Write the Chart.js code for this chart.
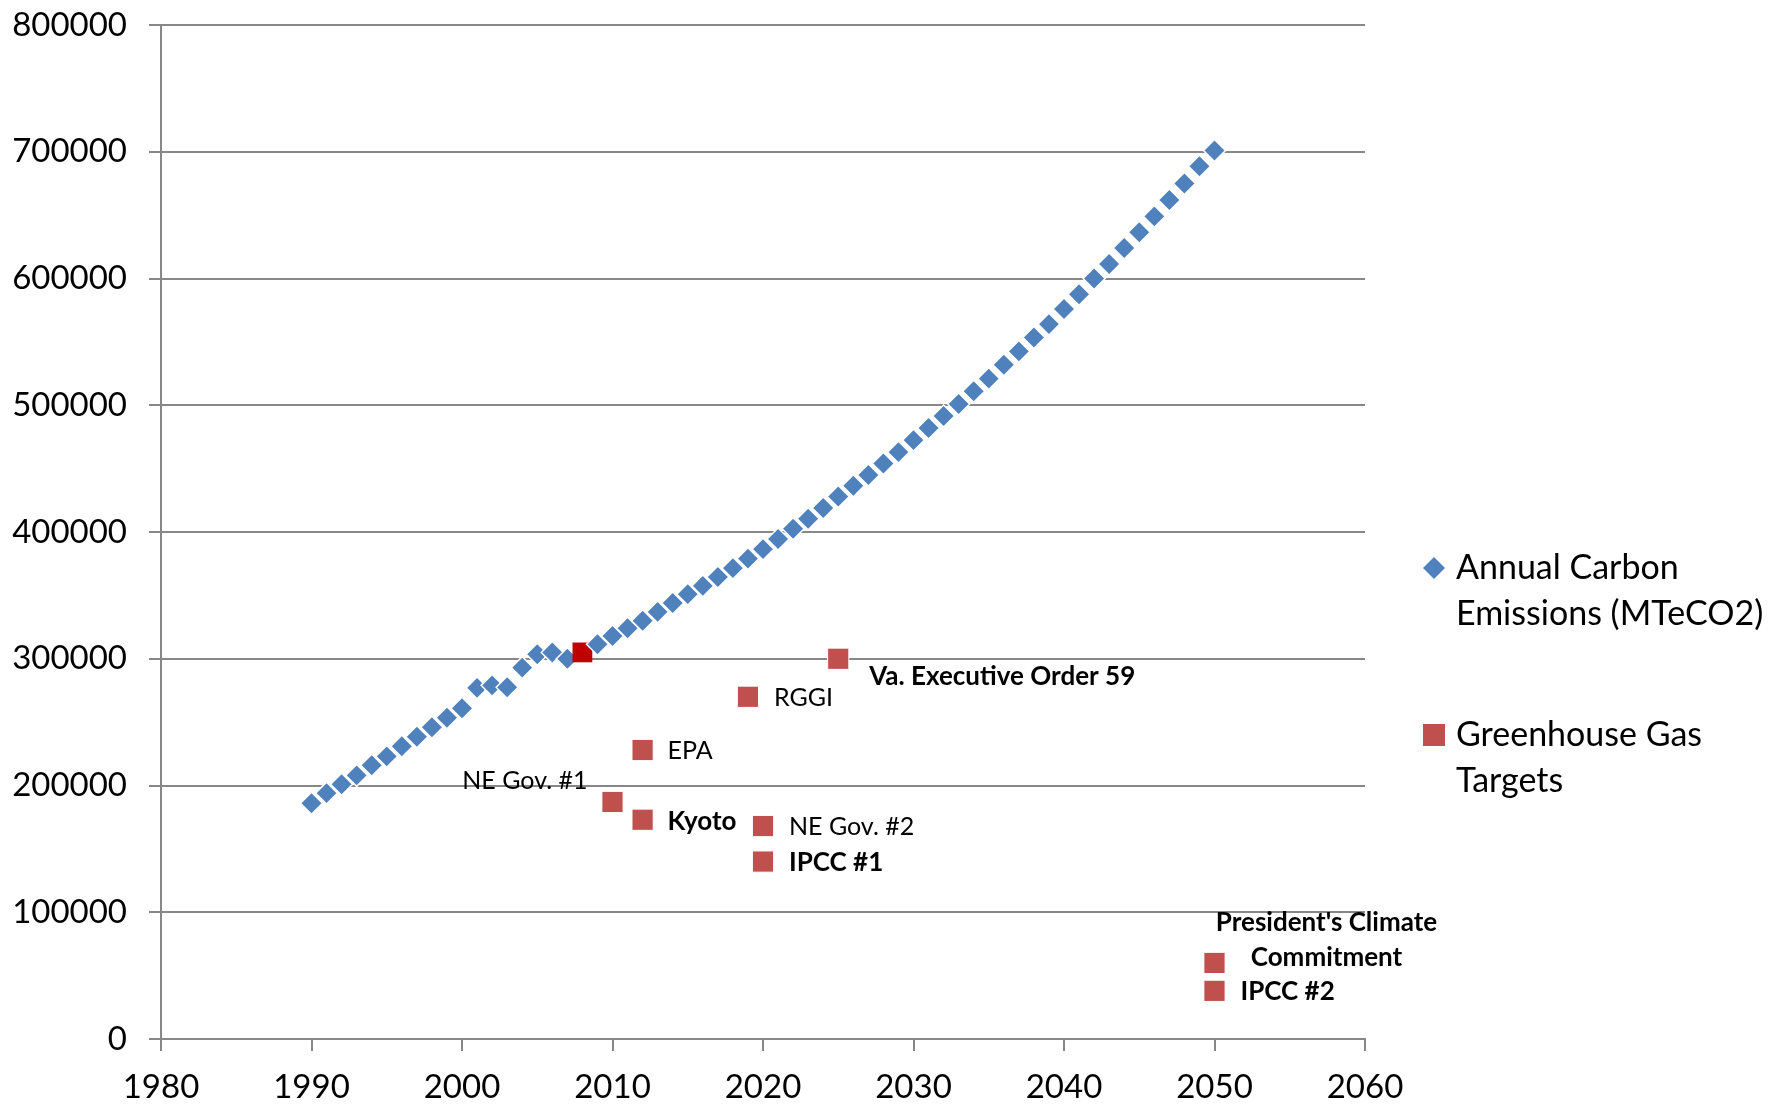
<!DOCTYPE html>
<html>
<head>
<meta charset="utf-8">
<script src="https://cdn.jsdelivr.net/npm/chart.js@4.4.0/dist/chart.umd.min.js"></script>
<style>
  html, body { margin: 0; padding: 0; background: #ffffff; }
  #wrap { width: 1786px; height: 1105px; position: relative; }
</style>
</head>
<body>
<div id="wrap"><canvas id="emissionsChart"></canvas></div>
<script>
// Annual emissions series (one point a year)
const years = [
  1990, 1991, 1992, 1993, 1994, 1995, 1996, 1997, 1998, 1999,
  2000, 2001, 2002, 2003, 2004, 2005, 2006, 2007, 2008, 2009,
  2010, 2011, 2012, 2013, 2014, 2015, 2016, 2017, 2018, 2019,
  2020, 2021, 2022, 2023, 2024, 2025, 2026, 2027, 2028, 2029,
  2030, 2031, 2032, 2033, 2034, 2035, 2036, 2037, 2038, 2039,
  2040, 2041, 2042, 2043, 2044, 2045, 2046, 2047, 2048, 2049, 2050
];
const emissions = [
  186000, 194000, 201000, 208000, 216000, 223000, 231000, 238500, 246000, 253500,
  261000, 277000, 279000, 277500, 293000, 303500, 305000, 300000, 305000, 311500,
  318000, 324000, 330000, 337000, 344000, 351000, 357500, 364500, 371500, 379000,
  386500, 394500, 402500, 410500, 419000, 428000, 436500, 445000, 454000, 463000,
  472500, 482000, 491500, 501000, 511000, 521000, 532000, 542500, 553500, 564000,
  576000, 587500, 600000, 611500, 624000, 636500, 649000, 662000, 675000, 688500, 701000
];
const highlightYear = 2008;

// Greenhouse gas targets
const targetNames = [
  'Va. Executive Order 59', 'RGGI', 'EPA', 'NE Gov. #1', 'Kyoto',
  'NE Gov. #2', 'IPCC #1', ["President's Climate", 'Commitment'], 'IPCC #2'
];
const targetYears = [2025, 2019, 2012, 2010, 2012, 2020, 2020, 2050, 2050];
const targetValues = [300000, 270000, 228000, 187000, 173000, 168000, 140000, 60000, 38000];

const xTickLabels = ['1980', '1990', '2000', '2010', '2020', '2030', '2040', '2050', '2060'];
const yTickLabels = ['0', '100000', '200000', '300000', '400000', '500000', '600000', '700000', '800000'];

const seriesNames = [['Annual Carbon', 'Emissions (MTeCO2)'], ['Greenhouse Gas', 'Targets']];

// label placement for the targets (px offsets from the marker)
const labelStyle = [
  { bold: true,  dx: 31,  dy: 18,  align: 'left' },
  { bold: false, dx: 26,  dy: 1,   align: 'left' },
  { bold: false, dx: 25,  dy: 1,   align: 'left' },
  { bold: false, dx: -25, dy: -21, align: 'right' },
  { bold: true,  dx: 25,  dy: 2,   align: 'left' },
  { bold: false, dx: 26,  dy: 1,   align: 'left' },
  { bold: true,  dx: 26,  dy: 1,   align: 'left' },
  { bold: true,  dx: 112, dy: -40, align: 'center', lineGap: 35 },
  { bold: true,  dx: 26,  dy: 1,   align: 'left' }
];

const BLUE = '#4F81BD';
const RED = '#C0504D';
const DARK_RED = '#C00000';
const GRID = '#878787';
const FONT = 'Lato';

const targetLabels = {
  id: 'targetLabels',
  afterDatasetsDraw(chart) {
    const meta = chart.getDatasetMeta(1);
    const ctx = chart.ctx;
    ctx.save();
    ctx.fillStyle = '#000';
    ctx.textBaseline = 'middle';
    meta.data.forEach((pt, i) => {
      const st = labelStyle[i];
      ctx.font = st.bold ? 'bold 26px ' + FONT : '25px ' + FONT;
      ctx.textAlign = st.align;
      const lines = Array.isArray(targetNames[i]) ? targetNames[i] : [targetNames[i]];
      lines.forEach((ln, k) => {
        ctx.fillText(ln, pt.x + st.dx, pt.y + st.dy + k * (st.lineGap || 0));
      });
    });
    ctx.restore();
  }
};

const sideLegend = {
  id: 'sideLegend',
  afterDraw(chart) {
    const ctx = chart.ctx;
    const x = 1434, tx = 1456;
    const rows = [568, 735];
    ctx.save();
    ctx.font = '34px ' + FONT;
    ctx.textBaseline = 'middle';
    ctx.textAlign = 'left';
    rows.forEach((y, i) => {
      if (i === 0) {
        ctx.fillStyle = BLUE;
        ctx.beginPath();
        ctx.moveTo(x, y - 11);
        ctx.lineTo(x + 11, y);
        ctx.lineTo(x, y + 11);
        ctx.lineTo(x - 11, y);
        ctx.closePath();
        ctx.fill();
      } else {
        ctx.fillStyle = RED;
        ctx.fillRect(x - 11, y - 11, 22, 22);
      }
      ctx.fillStyle = '#000';
      seriesNames[i].forEach((ln, k) => ctx.fillText(ln, tx, y + k * 46));
    });
    ctx.restore();
  }
};

const ctx = document.getElementById('emissionsChart').getContext('2d');
new Chart(ctx, {
  type: 'scatter',
  data: {
    datasets: [{
      label: seriesNames[0].join(' '),
      data: years.map((y, i) => ({ x: y, y: emissions[i] })),
      pointStyle: c => years[c.dataIndex] === highlightYear ? 'rect' : 'rectRot',
      pointRadius: c => years[c.dataIndex] === highlightYear ? 14 : 11,
      pointBackgroundColor: c => years[c.dataIndex] === highlightYear ? DARK_RED : BLUE,
      pointBorderColor: c => years[c.dataIndex] === highlightYear ? DARK_RED : '#ffffff',
      pointBorderWidth: c => years[c.dataIndex] === highlightYear ? 0 : 1.5,
      order: 1
    }, {
      label: seriesNames[1].join(' '),
      data: targetYears.map((y, i) => ({ x: y, y: targetValues[i] })),
      pointStyle: 'rect',
      pointRadius: 15,
      pointBackgroundColor: RED,
      pointBorderColor: '#ffffff',
      pointBorderWidth: 1,
      order: 0
    }]
  },
  options: {
    responsive: true,
    maintainAspectRatio: false,
    animation: false,
    events: [],
    layout: { padding: { top: 25, right: 421, bottom: 0, left: 0 } },
    plugins: {
      legend: { display: false },
      tooltip: { enabled: false }
    },
    scales: {
      x: {
        type: 'linear',
        min: 1980,
        max: 2060,
        afterBuildTicks: s => { s.ticks = xTickLabels.map(v => ({ value: Number(v) })); },
        afterFit: s => { s.height = 66; s.paddingLeft = 0; s.paddingRight = 0; },
        ticks: {
          callback: v => String(v),
          color: '#000',
          font: { family: FONT, size: 33, lineHeight: 1 },
          padding: 20,
          maxRotation: 0
        },
        grid: {
          display: true,
          drawOnChartArea: false,
          drawTicks: true,
          tickLength: 12,
          color: GRID,
          lineWidth: 2
        },
        border: { display: true, color: GRID, width: 2 }
      },
      y: {
        min: 0,
        max: 800000,
        afterBuildTicks: s => { s.ticks = yTickLabels.map(v => ({ value: Number(v) })); },
        afterFit: s => { s.width = 161; s.paddingTop = 0; s.paddingBottom = 0; },
        ticks: {
          callback: v => String(v),
          color: '#000',
          font: { family: FONT, size: 33 },
          padding: 22
        },
        grid: {
          color: GRID,
          lineWidth: 2,
          tickLength: 12
        },
        border: { display: true, color: GRID, width: 2 }
      }
    }
  },
  plugins: [targetLabels, sideLegend]
});
</script>
</body>
</html>
